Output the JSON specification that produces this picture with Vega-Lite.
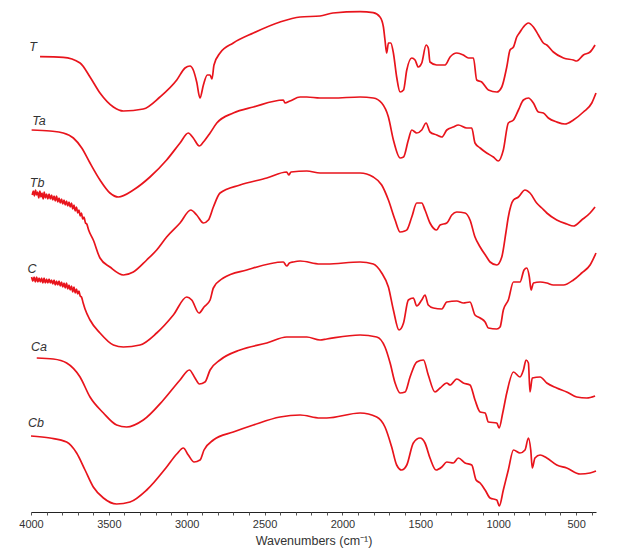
{
  "$schema": "https://vega.github.io/schema/vega-lite/v6.json",
  "width": 565,
  "height": 507,
  "autosize": {"type": "none"},
  "padding": {"left": 31, "top": 5, "right": 29, "bottom": 45},
  "background": "white",
  "config": {"view": {"stroke": null}},
  "datasets": {
    "spectra": [
      {"s":"T","w":3942,"a":455.3},{"s":"T","w":3793,"a":454.7},{"s":"T","w":3685,"a":449},{"s":"T","w":3621,"a":435},{"s":"T","w":3557,"a":419},{"s":"T","w":3471,"a":405},{"s":"T","w":3407,"a":401},{"s":"T","w":3279,"a":403},{"s":"T","w":3172,"a":415},{"s":"T","w":3064,"a":432},{"s":"T","w":3011,"a":444},{"s":"T","w":2979,"a":446},{"s":"T","w":2958,"a":442},{"s":"T","w":2936,"a":430},{"s":"T","w":2915,"a":414},{"s":"T","w":2893,"a":427},{"s":"T","w":2868,"a":437},{"s":"T","w":2850,"a":437},{"s":"T","w":2838,"a":433},{"s":"T","w":2825,"a":447},{"s":"T","w":2786,"a":459},{"s":"T","w":2701,"a":469},{"s":"T","w":2572,"a":479},{"s":"T","w":2401,"a":490},{"s":"T","w":2272,"a":495},{"s":"T","w":2144,"a":496},{"s":"T","w":2061,"a":499},{"s":"T","w":1887,"a":500.3},{"s":"T","w":1803,"a":499.3},{"s":"T","w":1759,"a":495},{"s":"T","w":1737,"a":485},{"s":"T","w":1727,"a":472},{"s":"T","w":1716,"a":459},{"s":"T","w":1705,"a":469},{"s":"T","w":1690,"a":469},{"s":"T","w":1673,"a":459},{"s":"T","w":1652,"a":435},{"s":"T","w":1630,"a":420},{"s":"T","w":1608,"a":422},{"s":"T","w":1587,"a":442},{"s":"T","w":1555,"a":454},{"s":"T","w":1534,"a":452},{"s":"T","w":1513,"a":445},{"s":"T","w":1491,"a":449},{"s":"T","w":1463,"a":467},{"s":"T","w":1449,"a":464},{"s":"T","w":1438,"a":450},{"s":"T","w":1395,"a":447},{"s":"T","w":1341,"a":447},{"s":"T","w":1309,"a":455},{"s":"T","w":1266,"a":459},{"s":"T","w":1224,"a":457},{"s":"T","w":1191,"a":454},{"s":"T","w":1159,"a":454},{"s":"T","w":1138,"a":432},{"s":"T","w":1106,"a":430},{"s":"T","w":1063,"a":422},{"s":"T","w":1009,"a":420},{"s":"T","w":977,"a":425},{"s":"T","w":945,"a":445},{"s":"T","w":924,"a":462},{"s":"T","w":902,"a":465},{"s":"T","w":881,"a":475},{"s":"T","w":860,"a":480},{"s":"T","w":838,"a":485},{"s":"T","w":806,"a":489},{"s":"T","w":774,"a":485},{"s":"T","w":742,"a":477},{"s":"T","w":710,"a":469},{"s":"T","w":688,"a":467},{"s":"T","w":646,"a":460},{"s":"T","w":581,"a":454},{"s":"T","w":517,"a":452},{"s":"T","w":496,"a":451},{"s":"T","w":453,"a":457},{"s":"T","w":410,"a":460},{"s":"T","w":378,"a":467},

      {"s":"Ta","w":3996,"a":382},{"s":"Ta","w":3878,"a":381},{"s":"Ta","w":3793,"a":379},{"s":"Ta","w":3728,"a":374},{"s":"Ta","w":3674,"a":364},{"s":"Ta","w":3621,"a":349},{"s":"Ta","w":3557,"a":332},{"s":"Ta","w":3493,"a":319},{"s":"Ta","w":3439,"a":315},{"s":"Ta","w":3343,"a":322},{"s":"Ta","w":3236,"a":335},{"s":"Ta","w":3129,"a":352},{"s":"Ta","w":3043,"a":369},{"s":"Ta","w":2990,"a":379},{"s":"Ta","w":2958,"a":374},{"s":"Ta","w":2919,"a":366},{"s":"Ta","w":2893,"a":370},{"s":"Ta","w":2850,"a":379},{"s":"Ta","w":2807,"a":389},{"s":"Ta","w":2701,"a":399},{"s":"Ta","w":2572,"a":405},{"s":"Ta","w":2380,"a":412},{"s":"Ta","w":2369,"a":409},{"s":"Ta","w":2337,"a":411},{"s":"Ta","w":2272,"a":415},{"s":"Ta","w":2229,"a":415},{"s":"Ta","w":2144,"a":414},{"s":"Ta","w":2061,"a":414},{"s":"Ta","w":1887,"a":415},{"s":"Ta","w":1802,"a":414},{"s":"Ta","w":1748,"a":409},{"s":"Ta","w":1705,"a":395},{"s":"Ta","w":1673,"a":372},{"s":"Ta","w":1630,"a":354},{"s":"Ta","w":1608,"a":355},{"s":"Ta","w":1577,"a":372},{"s":"Ta","w":1555,"a":382},{"s":"Ta","w":1523,"a":379},{"s":"Ta","w":1491,"a":382},{"s":"Ta","w":1463,"a":389},{"s":"Ta","w":1438,"a":380},{"s":"Ta","w":1395,"a":377},{"s":"Ta","w":1362,"a":375},{"s":"Ta","w":1330,"a":382},{"s":"Ta","w":1288,"a":385},{"s":"Ta","w":1256,"a":387},{"s":"Ta","w":1202,"a":384},{"s":"Ta","w":1170,"a":384},{"s":"Ta","w":1149,"a":369},{"s":"Ta","w":1116,"a":364},{"s":"Ta","w":1074,"a":359},{"s":"Ta","w":1031,"a":355},{"s":"Ta","w":999,"a":351},{"s":"Ta","w":967,"a":362},{"s":"Ta","w":935,"a":389},{"s":"Ta","w":902,"a":392},{"s":"Ta","w":870,"a":402},{"s":"Ta","w":838,"a":412},{"s":"Ta","w":806,"a":414},{"s":"Ta","w":774,"a":409},{"s":"Ta","w":742,"a":400},{"s":"Ta","w":710,"a":399},{"s":"Ta","w":678,"a":394},{"s":"Ta","w":624,"a":390},{"s":"Ta","w":571,"a":388},{"s":"Ta","w":517,"a":392},{"s":"Ta","w":453,"a":400},{"s":"Ta","w":399,"a":409},{"s":"Ta","w":372,"a":419},

      {"s":"Tb","w":3992,"a":317},{"s":"Tb","w":3985,"a":321},{"s":"Tb","w":3978,"a":316},{"s":"Tb","w":3971,"a":322},{"s":"Tb","w":3964,"a":317},{"s":"Tb","w":3957,"a":320},{"s":"Tb","w":3950,"a":314},{"s":"Tb","w":3943,"a":321},{"s":"Tb","w":3936,"a":315},{"s":"Tb","w":3929,"a":319},{"s":"Tb","w":3922,"a":313},{"s":"Tb","w":3915,"a":320},{"s":"Tb","w":3908,"a":314},{"s":"Tb","w":3900,"a":318},{"s":"Tb","w":3892,"a":313},{"s":"Tb","w":3884,"a":318},{"s":"Tb","w":3876,"a":313},{"s":"Tb","w":3868,"a":317},{"s":"Tb","w":3860,"a":312},{"s":"Tb","w":3852,"a":316},{"s":"Tb","w":3844,"a":311},{"s":"Tb","w":3836,"a":316},{"s":"Tb","w":3828,"a":310},{"s":"Tb","w":3820,"a":314},{"s":"Tb","w":3812,"a":309},{"s":"Tb","w":3804,"a":313},{"s":"Tb","w":3796,"a":308},{"s":"Tb","w":3788,"a":312},{"s":"Tb","w":3780,"a":307},{"s":"Tb","w":3772,"a":311},{"s":"Tb","w":3764,"a":306},{"s":"Tb","w":3756,"a":310},{"s":"Tb","w":3748,"a":305},{"s":"Tb","w":3740,"a":309},{"s":"Tb","w":3732,"a":303},{"s":"Tb","w":3724,"a":307},{"s":"Tb","w":3716,"a":301},{"s":"Tb","w":3708,"a":305},{"s":"Tb","w":3700,"a":299},{"s":"Tb","w":3692,"a":302},{"s":"Tb","w":3684,"a":296},{"s":"Tb","w":3676,"a":299},{"s":"Tb","w":3668,"a":293},{"s":"Tb","w":3660,"a":295},{"s":"Tb","w":3650,"a":289},{"s":"Tb","w":3642,"a":288},{"s":"Tb","w":3630,"a":282},{"s":"Tb","w":3600,"a":272},{"s":"Tb","w":3557,"a":254},{"s":"Tb","w":3493,"a":245},{"s":"Tb","w":3407,"a":237},{"s":"Tb","w":3343,"a":240},{"s":"Tb","w":3257,"a":252},{"s":"Tb","w":3193,"a":262},{"s":"Tb","w":3129,"a":275},{"s":"Tb","w":3043,"a":289},{"s":"Tb","w":2974,"a":302},{"s":"Tb","w":2936,"a":297},{"s":"Tb","w":2893,"a":289},{"s":"Tb","w":2861,"a":292},{"s":"Tb","w":2829,"a":305},{"s":"Tb","w":2786,"a":319},{"s":"Tb","w":2658,"a":327},{"s":"Tb","w":2486,"a":334},{"s":"Tb","w":2358,"a":340},{"s":"Tb","w":2345,"a":337},{"s":"Tb","w":2330,"a":340},{"s":"Tb","w":2229,"a":341},{"s":"Tb","w":2144,"a":339},{"s":"Tb","w":2059,"a":339},{"s":"Tb","w":1887,"a":339},{"s":"Tb","w":1802,"a":335},{"s":"Tb","w":1748,"a":327},{"s":"Tb","w":1705,"a":312},{"s":"Tb","w":1662,"a":292},{"s":"Tb","w":1630,"a":280},{"s":"Tb","w":1600,"a":281},{"s":"Tb","w":1587,"a":282},{"s":"Tb","w":1555,"a":295},{"s":"Tb","w":1523,"a":309},{"s":"Tb","w":1491,"a":309},{"s":"Tb","w":1470,"a":302},{"s":"Tb","w":1438,"a":289},{"s":"Tb","w":1395,"a":282},{"s":"Tb","w":1373,"a":287},{"s":"Tb","w":1330,"a":289},{"s":"Tb","w":1298,"a":297},{"s":"Tb","w":1266,"a":300},{"s":"Tb","w":1213,"a":299},{"s":"Tb","w":1181,"a":292},{"s":"Tb","w":1149,"a":275},{"s":"Tb","w":1116,"a":265},{"s":"Tb","w":1074,"a":255},{"s":"Tb","w":1052,"a":250},{"s":"Tb","w":1009,"a":247},{"s":"Tb","w":977,"a":255},{"s":"Tb","w":950,"a":280},{"s":"Tb","w":935,"a":295},{"s":"Tb","w":902,"a":312},{"s":"Tb","w":870,"a":315},{"s":"Tb","w":828,"a":322},{"s":"Tb","w":796,"a":319},{"s":"Tb","w":753,"a":309},{"s":"Tb","w":720,"a":304},{"s":"Tb","w":688,"a":299},{"s":"Tb","w":624,"a":292},{"s":"Tb","w":560,"a":288},{"s":"Tb","w":517,"a":286},{"s":"Tb","w":464,"a":292},{"s":"Tb","w":410,"a":299},{"s":"Tb","w":378,"a":305},

      {"s":"C","w":3996,"a":235},{"s":"C","w":3988,"a":231},{"s":"C","w":3980,"a":235},{"s":"C","w":3972,"a":230},{"s":"C","w":3964,"a":235},{"s":"C","w":3956,"a":230},{"s":"C","w":3948,"a":234},{"s":"C","w":3940,"a":230},{"s":"C","w":3932,"a":234},{"s":"C","w":3924,"a":229},{"s":"C","w":3916,"a":234},{"s":"C","w":3908,"a":229},{"s":"C","w":3900,"a":233},{"s":"C","w":3892,"a":229},{"s":"C","w":3884,"a":233},{"s":"C","w":3876,"a":229},{"s":"C","w":3868,"a":232},{"s":"C","w":3860,"a":228},{"s":"C","w":3852,"a":232},{"s":"C","w":3844,"a":227},{"s":"C","w":3836,"a":231},{"s":"C","w":3828,"a":227},{"s":"C","w":3820,"a":231},{"s":"C","w":3812,"a":226},{"s":"C","w":3804,"a":230},{"s":"C","w":3796,"a":225},{"s":"C","w":3788,"a":229},{"s":"C","w":3780,"a":224},{"s":"C","w":3772,"a":229},{"s":"C","w":3764,"a":223},{"s":"C","w":3756,"a":227},{"s":"C","w":3748,"a":222},{"s":"C","w":3740,"a":226},{"s":"C","w":3732,"a":220},{"s":"C","w":3724,"a":225},{"s":"C","w":3716,"a":219},{"s":"C","w":3708,"a":223},{"s":"C","w":3700,"a":218},{"s":"C","w":3692,"a":221},{"s":"C","w":3684,"a":216},{"s":"C","w":3676,"a":215},{"s":"C","w":3665,"a":209},{"s":"C","w":3653,"a":203},{"s":"C","w":3621,"a":192},{"s":"C","w":3557,"a":179},{"s":"C","w":3471,"a":167},{"s":"C","w":3407,"a":165},{"s":"C","w":3300,"a":167},{"s":"C","w":3193,"a":179},{"s":"C","w":3086,"a":197},{"s":"C","w":3000,"a":215},{"s":"C","w":2968,"a":212},{"s":"C","w":2921,"a":199},{"s":"C","w":2889,"a":205},{"s":"C","w":2850,"a":212},{"s":"C","w":2829,"a":224},{"s":"C","w":2765,"a":234},{"s":"C","w":2615,"a":242},{"s":"C","w":2380,"a":250},{"s":"C","w":2358,"a":246},{"s":"C","w":2340,"a":249},{"s":"C","w":2316,"a":250},{"s":"C","w":2272,"a":251},{"s":"C","w":2144,"a":248},{"s":"C","w":2101,"a":248},{"s":"C","w":1887,"a":250},{"s":"C","w":1802,"a":248},{"s":"C","w":1748,"a":239},{"s":"C","w":1705,"a":225},{"s":"C","w":1673,"a":202},{"s":"C","w":1637,"a":182},{"s":"C","w":1608,"a":189},{"s":"C","w":1577,"a":212},{"s":"C","w":1545,"a":214},{"s":"C","w":1523,"a":206},{"s":"C","w":1491,"a":212},{"s":"C","w":1470,"a":217},{"s":"C","w":1449,"a":207},{"s":"C","w":1416,"a":204},{"s":"C","w":1362,"a":203},{"s":"C","w":1330,"a":210},{"s":"C","w":1266,"a":211},{"s":"C","w":1224,"a":209},{"s":"C","w":1181,"a":210},{"s":"C","w":1149,"a":197},{"s":"C","w":1116,"a":194},{"s":"C","w":1084,"a":190},{"s":"C","w":1063,"a":184},{"s":"C","w":1009,"a":183},{"s":"C","w":988,"a":185},{"s":"C","w":967,"a":202},{"s":"C","w":935,"a":212},{"s":"C","w":902,"a":230},{"s":"C","w":860,"a":230},{"s":"C","w":834,"a":242},{"s":"C","w":817,"a":244},{"s":"C","w":800,"a":235},{"s":"C","w":789,"a":222},{"s":"C","w":774,"a":229},{"s":"C","w":731,"a":230},{"s":"C","w":688,"a":229},{"s":"C","w":646,"a":227},{"s":"C","w":581,"a":227},{"s":"C","w":517,"a":232},{"s":"C","w":464,"a":239},{"s":"C","w":410,"a":247},{"s":"C","w":372,"a":259},

      {"s":"Ca","w":3963,"a":154},{"s":"Ca","w":3857,"a":153},{"s":"Ca","w":3771,"a":149},{"s":"Ca","w":3685,"a":135},{"s":"Ca","w":3621,"a":115},{"s":"Ca","w":3535,"a":99},{"s":"Ca","w":3450,"a":87},{"s":"Ca","w":3386,"a":85},{"s":"Ca","w":3279,"a":92},{"s":"Ca","w":3150,"a":112},{"s":"Ca","w":3043,"a":132},{"s":"Ca","w":2983,"a":142},{"s":"Ca","w":2947,"a":134},{"s":"Ca","w":2919,"a":128},{"s":"Ca","w":2883,"a":130},{"s":"Ca","w":2850,"a":142},{"s":"Ca","w":2786,"a":152},{"s":"Ca","w":2658,"a":162},{"s":"Ca","w":2486,"a":169},{"s":"Ca","w":2358,"a":175},{"s":"Ca","w":2229,"a":175},{"s":"Ca","w":2144,"a":172},{"s":"Ca","w":2101,"a":173},{"s":"Ca","w":1887,"a":177},{"s":"Ca","w":1780,"a":175},{"s":"Ca","w":1727,"a":165},{"s":"Ca","w":1694,"a":149},{"s":"Ca","w":1662,"a":129},{"s":"Ca","w":1630,"a":119},{"s":"Ca","w":1598,"a":120},{"s":"Ca","w":1566,"a":135},{"s":"Ca","w":1523,"a":150},{"s":"Ca","w":1480,"a":152},{"s":"Ca","w":1449,"a":137},{"s":"Ca","w":1406,"a":120},{"s":"Ca","w":1373,"a":124},{"s":"Ca","w":1330,"a":129},{"s":"Ca","w":1309,"a":127},{"s":"Ca","w":1266,"a":133},{"s":"Ca","w":1224,"a":129},{"s":"Ca","w":1181,"a":127},{"s":"Ca","w":1149,"a":112},{"s":"Ca","w":1116,"a":100},{"s":"Ca","w":1084,"a":99},{"s":"Ca","w":1063,"a":90},{"s":"Ca","w":1009,"a":89},{"s":"Ca","w":994,"a":84},{"s":"Ca","w":971,"a":99},{"s":"Ca","w":945,"a":119},{"s":"Ca","w":902,"a":140},{"s":"Ca","w":860,"a":135},{"s":"Ca","w":838,"a":142},{"s":"Ca","w":821,"a":152},{"s":"Ca","w":806,"a":149},{"s":"Ca","w":796,"a":120},{"s":"Ca","w":781,"a":134},{"s":"Ca","w":731,"a":135},{"s":"Ca","w":688,"a":129},{"s":"Ca","w":624,"a":124},{"s":"Ca","w":560,"a":120},{"s":"Ca","w":496,"a":115},{"s":"Ca","w":431,"a":114},{"s":"Ca","w":378,"a":116},

      {"s":"Cb","w":4000,"a":76},{"s":"Cb","w":3878,"a":74},{"s":"Cb","w":3771,"a":70},{"s":"Cb","w":3707,"a":59},{"s":"Cb","w":3653,"a":42},{"s":"Cb","w":3600,"a":25},{"s":"Cb","w":3535,"a":14},{"s":"Cb","w":3450,"a":8},{"s":"Cb","w":3364,"a":10},{"s":"Cb","w":3257,"a":22},{"s":"Cb","w":3129,"a":45},{"s":"Cb","w":3064,"a":58},{"s":"Cb","w":3022,"a":64},{"s":"Cb","w":2990,"a":57},{"s":"Cb","w":2953,"a":50},{"s":"Cb","w":2915,"a":52},{"s":"Cb","w":2889,"a":62},{"s":"Cb","w":2829,"a":72},{"s":"Cb","w":2701,"a":80},{"s":"Cb","w":2572,"a":87},{"s":"Cb","w":2401,"a":95},{"s":"Cb","w":2272,"a":97},{"s":"Cb","w":2144,"a":94},{"s":"Cb","w":2101,"a":94},{"s":"Cb","w":1887,"a":99},{"s":"Cb","w":1780,"a":95},{"s":"Cb","w":1727,"a":85},{"s":"Cb","w":1684,"a":65},{"s":"Cb","w":1652,"a":47},{"s":"Cb","w":1620,"a":42},{"s":"Cb","w":1587,"a":47},{"s":"Cb","w":1545,"a":69},{"s":"Cb","w":1502,"a":74},{"s":"Cb","w":1470,"a":69},{"s":"Cb","w":1438,"a":54},{"s":"Cb","w":1399,"a":42},{"s":"Cb","w":1362,"a":45},{"s":"Cb","w":1330,"a":50},{"s":"Cb","w":1288,"a":49},{"s":"Cb","w":1256,"a":54},{"s":"Cb","w":1213,"a":49},{"s":"Cb","w":1170,"a":47},{"s":"Cb","w":1142,"a":32},{"s":"Cb","w":1116,"a":29},{"s":"Cb","w":1084,"a":22},{"s":"Cb","w":1052,"a":14},{"s":"Cb","w":1009,"a":12},{"s":"Cb","w":993,"a":6},{"s":"Cb","w":967,"a":22},{"s":"Cb","w":935,"a":42},{"s":"Cb","w":902,"a":62},{"s":"Cb","w":860,"a":59},{"s":"Cb","w":828,"a":62},{"s":"Cb","w":806,"a":74},{"s":"Cb","w":791,"a":62},{"s":"Cb","w":781,"a":44},{"s":"Cb","w":764,"a":54},{"s":"Cb","w":731,"a":57},{"s":"Cb","w":688,"a":54},{"s":"Cb","w":624,"a":47},{"s":"Cb","w":560,"a":44},{"s":"Cb","w":474,"a":38},{"s":"Cb","w":410,"a":39},{"s":"Cb","w":372,"a":41}
    ],
    "labels": [
      {"t":"T","w":3987,"a":465},
      {"t":"Ta","w":3949,"a":391},
      {"t":"Tb","w":3961,"a":329},
      {"t":"C","w":3994,"a":243},
      {"t":"Ca","w":3949,"a":165},
      {"t":"Cb","w":3968,"a":89}
    ]
  },
  "resolve": {"axis": {"x": "independent"}},
  "layer": [
    {
      "data": {"name": "spectra"},
      "mark": {"type": "line", "color": "#e8141c", "strokeWidth": 1.7, "interpolate": "monotone"},
      "encoding": {
        "x": {
          "field": "w", "type": "quantitative",
          "scale": {"domain": [372, 4000], "reverse": true, "nice": false, "zero": false},
          "axis": {
            "orient": "bottom",
            "values": [4000,3500,3000,2500,2000,1500,1000,500],
            "format": "d",
            "grid": false,
            "tickSize": 3,
            "tickColor": "#555",
            "domainColor": "#222",
            "labelFont": "Liberation Sans",
            "labelFontSize": 11,
            "labelColor": "#333",
            "labelPadding": 3,
            "labelOverlap": false,
            "labelFlush": false,
            "title": "Wavenumbers (cm⁻¹)",
            "titleFont": "Liberation Sans",
            "titleFontSize": 12.5,
            "titleFontWeight": "normal",
            "titleColor": "#333",
            "titlePadding": 5
          }
        },
        "y": {"field": "a", "type": "quantitative", "scale": {"domain": [0, 507], "nice": false, "zero": false}, "axis": null},
        "detail": {"field": "s"}
      }
    },
    {
      "data": {"name": "labels"},
      "mark": {"type": "text", "font": "Liberation Sans", "fontStyle": "italic", "fontSize": 12.5, "color": "#333", "align": "center", "baseline": "middle"},
      "encoding": {
        "x": {
          "field": "w", "type": "quantitative",
          "axis": {
            "orient": "bottom",
            "values": [400,600,700,800,900,1100,1200,1300,1400,1600,1700,1800,1900,2100,2200,2300,2400,2600,2700,2800,2900,3100,3200,3300,3400,3600,3700,3800,3900],
            "labels": false,
            "domain": false,
            "grid": false,
            "tickSize": 3,
            "tickColor": "#555",
            "title": null
          }
        },
        "y": {"field": "a", "type": "quantitative"},
        "text": {"field": "t"}
      }
    }
  ]
}
